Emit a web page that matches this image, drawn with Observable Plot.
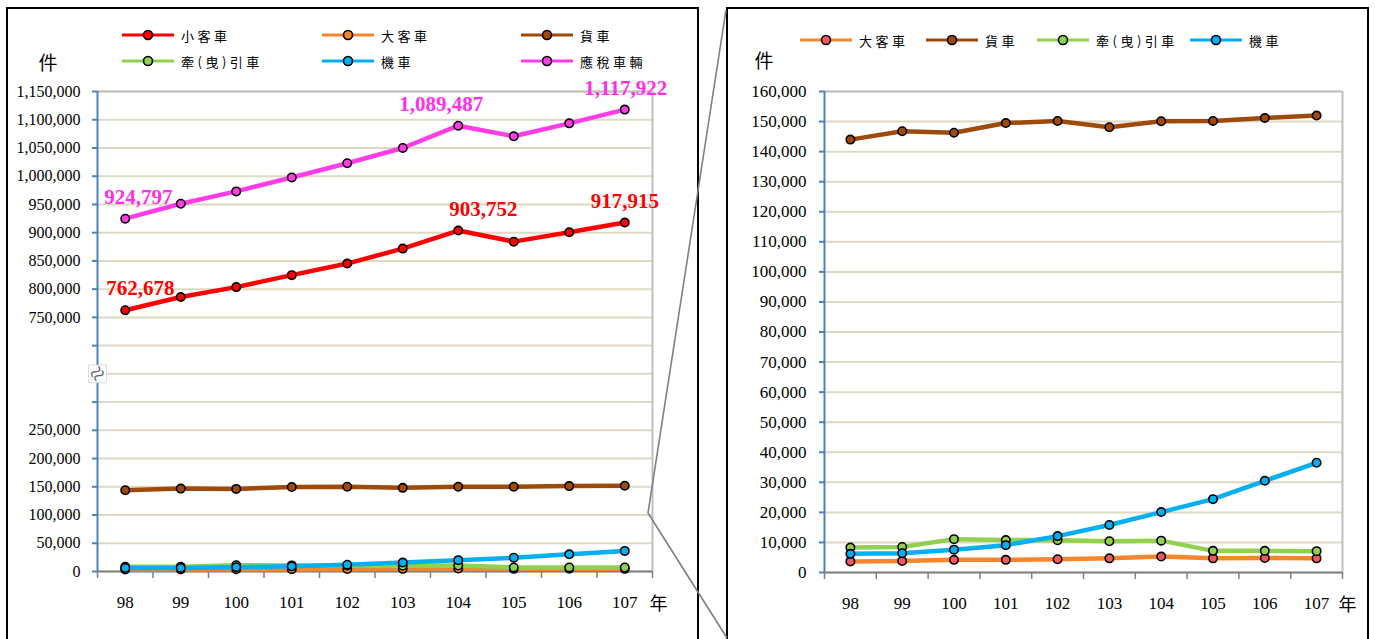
<!DOCTYPE html>
<html><head><meta charset="utf-8">
<script src="https://cdn.jsdelivr.net/npm/d3@7"></script>
<script src="https://cdn.jsdelivr.net/npm/@observablehq/plot@0.6"></script>
<style>
body{margin:0;background:#fff;overflow:hidden;}
#wrap{position:relative;width:1375px;height:639px;overflow:hidden;font-family:"Liberation Serif",serif;background:#fff;}
.panel{position:absolute;border:2px solid #000;box-sizing:border-box;}
.chart{position:absolute;top:0;}
.item{position:absolute;display:flex;align-items:center;white-space:nowrap;font-family:"Noto Sans CJK TC",sans-serif;font-size:13px;letter-spacing:3.5px;color:#000;height:20px;}
.item span{margin-left:7px;}
.unit{position:absolute;font-family:"Noto Sans CJK TC",sans-serif;font-size:19px;transform:translate(-50%,-50%);line-height:1;}
</style></head><body><div id="wrap"></div>
<script>
// ---- data ----
const years = [98, 99, 100, 101, 102, 103, 104, 105, 106, 107];
const sedan      = [762678, 786000, 803600, 824800, 845300, 871800, 903752, 884100, 900700, 917915]; // 小客車
const bus        = [3700, 3800, 4200, 4200, 4400, 4700, 5300, 4700, 4800, 4700];                    // 大客車
const truck      = [144000, 146800, 146300, 149500, 150200, 148100, 150100, 150200, 151200, 152000]; // 貨車
const tractor    = [8300, 8500, 11100, 10800, 10700, 10400, 10600, 7200, 7200, 7100];               // 牽(曳)引車
const motorcycle = [6200, 6400, 7600, 9100, 12100, 15800, 20100, 24400, 30500, 36500];              // 機車
const taxable    = [924797, 951200, 973100, 997800, 1023000, 1050000, 1089487, 1070700, 1093600, 1117922]; // 應稅車輛
const leftTickValues = [0, 50000, 100000, 150000, 200000, 250000, 750000, 800000, 850000, 900000, 950000, 1000000, 1050000, 1100000, 1150000];
const rightTickValues = d3.range(0, 160001, 10000);
const labelYears = [98, 104, 107];

// ---- presentation ----
const labelDxSedan = [15, 25, 0];
const labelDxTaxable = [13, -17, 1];
const fmt = d3.format(",");
const STEP = 50000, GAP = 6; // broken axis: values above 350k shifted down by 6 steps
const toUnit = v => v <= 350000 ? v / STEP : v / STEP - GAP;
const unitLabel = u => {
  const v = u <= 7 ? u * STEP : (u + GAP) * STEP;
  return leftTickValues.includes(v) ? fmt(v) : "";
};

const seriesLeft = [
  {name: "小客車", values: sedan, color: "#FF0000", fill: "#FF0000"},
  {name: "大客車", values: bus, color: "#F7862A", fill: "#F7862A"},
  {name: "貨車", values: truck, color: "#9E4A0A", fill: "#9E4A0A"},
  {name: "牽(曳)引車", values: tractor, color: "#92D050", fill: "#92D050"},
  {name: "機車", values: motorcycle, color: "#00B0F0", fill: "#00B0F0"},
  {name: "應稅車輛", values: taxable, color: "#FF3DE6", fill: "#FF3DE6"}
];
const seriesRight = [
  {name: "大客車", values: bus, color: "#F7862A", fill: "#F25A5A"},
  {name: "貨車", values: truck, color: "#9E4A0A", fill: "#9E4A0A"},
  {name: "牽(曳)引車", values: tractor, color: "#92D050", fill: "#92D050"},
  {name: "機車", values: motorcycle, color: "#00B0F0", fill: "#00B0F0"}
];
const rows = s => years.map((y, i) => ({year: y, value: s.values[i]}));
const bounds = d3.range(97.5, 108, 1);

const wrap = document.getElementById("wrap");
function add(html){ wrap.insertAdjacentHTML("beforeend", html); }
add(`<div class="panel" style="left:6px;top:7px;width:693px;height:700px"></div>`);
add(`<div class="panel" style="left:726px;top:7px;width:643px;height:700px"></div>`);

function seriesMarks(list, yf, sw){
  const m = [];
  for (const s of list) {
    const r = rows(s);
    m.push(Plot.line(r, {x: "year", y: yf, stroke: s.color, strokeWidth: sw}));
    m.push(Plot.dot(r, {x: "year", y: yf, fill: s.fill, stroke: "#000", strokeWidth: 1.6, r: 4.2}));
  }
  return m;
}

// ---- left chart ----
const leftOrder = [seriesLeft[1], seriesLeft[2], seriesLeft[3], seriesLeft[4], seriesLeft[0], seriesLeft[5]];
const labelRows = (vals, dxs, color) => labelYears.map((y, k) => ({year: y, value: vals[years.indexOf(y)], dx: dxs[k], color}));
const sedanLabels = labelRows(sedan, labelDxSedan, "#FF0000");
const taxLabels = labelRows(taxable, labelDxTaxable, "#FF2EEA");
const textLabel = (data) => data.map(d => Plot.text([d], {
  x: "year", y: dd => toUnit(dd.value), text: dd => fmt(dd.value), dx: d.dx, dy: -15,
  lineAnchor: "bottom", fill: d.color, fontSize: 21, fontWeight: "bold", fontFamily: "Liberation Serif"
}));

const left = Plot.plot({
  width: 700, height: 639,
  marginLeft: 97, marginRight: 48, marginTop: 91, marginBottom: 68,
  x: {type: "linear", domain: [97.5, 107.5], axis: null},
  y: {type: "linear", domain: [0, 17], axis: null},
  style: {fontFamily: "Liberation Serif", color: "#000", background: "transparent", overflow: "visible"},
  marks: [
    Plot.ruleY(d3.range(0, 18), {stroke: "#DDD9C3", strokeWidth: 2}),
    Plot.ruleY([17], {stroke: "#BFBFBF", strokeWidth: 2}),
    Plot.ruleX([107.5], {stroke: "#BFBFBF", strokeWidth: 2}),
    Plot.ruleY([0], {stroke: "#808080", strokeWidth: 2}),
    Plot.axisX(bounds, {tickSize: 7, tickFormat: () => "", stroke: "#808080", strokeWidth: 1.5, label: null}),
    Plot.axisX(years, {tickSize: 0, tickPadding: 24, fontSize: 17, tickFormat: d => String(d), label: null}),
    Plot.axisY(d3.range(0, 18), {tickSize: 5, tickPadding: 12, stroke: "#4F81BD", strokeWidth: 2, fontSize: 16, tickFormat: unitLabel, label: null}),
    Plot.ruleX([97.5], {stroke: "#4F81BD", strokeWidth: 2}),
    Plot.dot([7], {x: () => 97.5, y: d => d, symbol: "square", r: 10, fill: "#fff", stroke: "#D0D0D0", strokeWidth: 0.8}),
    Plot.text([7], {x: () => 97.5, y: d => d, text: () => "≈", rotate: -40, fontSize: 26, fill: "#666"}),
    ...seriesMarks(leftOrder, d => toUnit(d.value), 4.5),
    ...textLabel(sedanLabels),
    ...textLabel(taxLabels),
    Plot.text(["年"], {x: () => 107.5, y: () => 0, dx: 6, dy: 33, fontSize: 18, fontFamily: "Noto Sans CJK TC"})
  ]
});
left.classList.add("chart");
left.style.left = "0px";
wrap.appendChild(left);

// ---- right chart ----
const right = Plot.plot({
  width: 675, height: 639,
  marginLeft: 124, marginRight: 33, marginTop: 91, marginBottom: 67,
  x: {type: "linear", domain: [97.5, 107.5], axis: null},
  y: {type: "linear", domain: [0, 160000], axis: null},
  style: {fontFamily: "Liberation Serif", color: "#000", background: "transparent", overflow: "visible"},
  marks: [
    Plot.ruleY(rightTickValues, {stroke: "#DDD9C3", strokeWidth: 2}),
    Plot.ruleY([160000], {stroke: "#BFBFBF", strokeWidth: 2}),
    Plot.ruleX([107.5], {stroke: "#BFBFBF", strokeWidth: 2}),
    Plot.ruleY([0], {stroke: "#808080", strokeWidth: 2}),
    Plot.axisX(bounds, {tickSize: 7, tickFormat: () => "", stroke: "#808080", strokeWidth: 1.5, label: null}),
    Plot.axisX(years, {tickSize: 0, tickPadding: 24, fontSize: 17, tickFormat: d => String(d), label: null}),
    Plot.axisY(rightTickValues, {tickSize: 5, tickPadding: 13, stroke: "#4F81BD", strokeWidth: 2, fontSize: 17, tickFormat: fmt, label: null}),
    Plot.ruleX([97.5], {stroke: "#4F81BD", strokeWidth: 2}),
    ...seriesMarks(seriesRight, "value", 4.5),
    Plot.text(["年"], {x: () => 107.5, y: () => 0, dx: 5, dy: 33, fontSize: 18, fontFamily: "Noto Sans CJK TC"})
  ]
});
right.classList.add("chart");
right.style.left = "700px";
wrap.appendChild(right);

// ---- legends ----
function legendItem(s, x, y){
  add(`<div class="item" style="left:${x}px;top:${y - 10}px"><svg width="52" height="20"><line x1="0" y1="10" x2="52" y2="10" stroke="${s.color}" stroke-width="3"/><circle cx="26" cy="10" r="4.5" fill="${s.fill}" stroke="#000" stroke-width="1.6"/></svg><span>${s.name}</span></div>`);
}
const leftLegendPos = [[122, 35], [322, 35], [521, 35], [122, 61], [322, 61], [521, 61]];
seriesLeft.forEach((s, i) => legendItem(s, leftLegendPos[i][0], leftLegendPos[i][1]));
const rightLegendPos = [[800, 40], [926, 40], [1037, 40], [1190, 40]];
seriesRight.forEach((s, i) => legendItem(s, rightLegendPos[i][0], rightLegendPos[i][1]));

add(`<div class="unit" style="left:48px;top:61px">件</div>`);
add(`<div class="unit" style="left:764px;top:59px">件</div>`);

// connector lines (decoration)
add(`<svg style="position:absolute;left:0;top:0;pointer-events:none" width="1375" height="639"><path d="M726,10 L648,513 L727,638" fill="none" stroke="#808080" stroke-width="1.6"/></svg>`);
</script></body></html>
